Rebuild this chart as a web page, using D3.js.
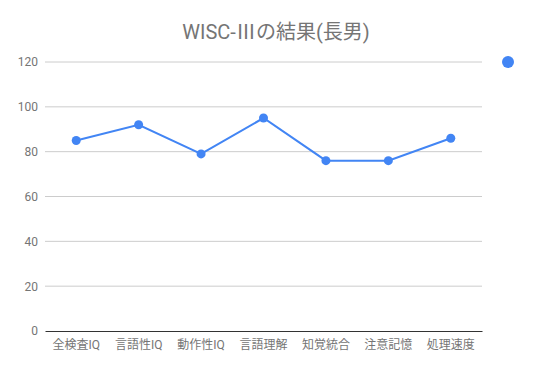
<!DOCTYPE html>
<html>
<head>
<meta charset="utf-8">
<script src="https://d3js.org/d3.v7.min.js"></script>
<style>
  body { margin: 0; background: #fff; }
  text { font-family: Roboto, "Noto Sans CJK JP", sans-serif; }
</style>
</head>
<body>
<svg id="chart"></svg>
<script>
var categories = ['全検査IQ', '言語性IQ', '動作性IQ', '言語理解', '知覚統合', '注意記憶', '処理速度'];
var values = [85, 92, 79, 95, 76, 76, 86];
var yTicks = [0, 20, 40, 60, 80, 100, 120];

var width = 553, height = 371;
var margin = { top: 62, right: 71, bottom: 40, left: 45 };
var innerWidth = width - margin.left - margin.right;
var innerHeight = height - margin.top - margin.bottom;

var svg = d3.select('#chart').attr('width', width).attr('height', height);

svg.append('text')
  .attr('x', 276).attr('y', 39)
  .attr('text-anchor', 'middle')
  .style('font-size', '20px')
  .attr('fill', '#757575')
  .text('WISC-Ⅲの結果(長男)');

var g = svg.append('g').attr('transform', 'translate(' + margin.left + ',' + margin.top + ')');

var x = d3.scaleBand().domain(categories).range([0, innerWidth]);
var y = d3.scaleLinear().domain([0, 120]).range([innerHeight, 0]);

// grid
g.selectAll('.grid').data(yTicks.slice(1)).enter().append('line')
  .attr('x1', 0).attr('x2', innerWidth)
  .attr('y1', function(d) { return y(d); }).attr('y2', function(d) { return y(d); })
  .attr('stroke', '#cccccc').attr('stroke-width', 1);

var yAxis = g.append('g')
  .call(d3.axisLeft(y).tickValues(yTicks).tickSize(0).tickPadding(7));
yAxis.select('.domain').remove();
yAxis.selectAll('text').attr('fill', '#757575').style('font-size', '12px');

var xAxis = g.append('g').attr('transform', 'translate(0,' + innerHeight + ')')
  .call(d3.axisBottom(x).tickSize(0).tickPadding(9));
xAxis.select('.domain').attr('stroke', '#333333');
xAxis.selectAll('text').attr('fill', '#757575').style('font-size', '12px');

var line = d3.line()
  .x(function(d, i) { return x(categories[i]) + x.bandwidth() / 2; })
  .y(function(d) { return y(d); });

g.append('path').datum(values)
  .attr('d', line)
  .attr('fill', 'none')
  .attr('stroke', '#4285f4')
  .attr('stroke-width', 2);

g.selectAll('.pt').data(values).enter().append('circle')
  .attr('cx', function(d, i) { return x(categories[i]) + x.bandwidth() / 2; })
  .attr('cy', function(d) { return y(d); })
  .attr('r', 4.5)
  .attr('fill', '#4285f4');

// legend marker
svg.append('circle').attr('cx', 508).attr('cy', 62).attr('r', 6).attr('fill', '#4285f4');
</script>
</body>
</html>
